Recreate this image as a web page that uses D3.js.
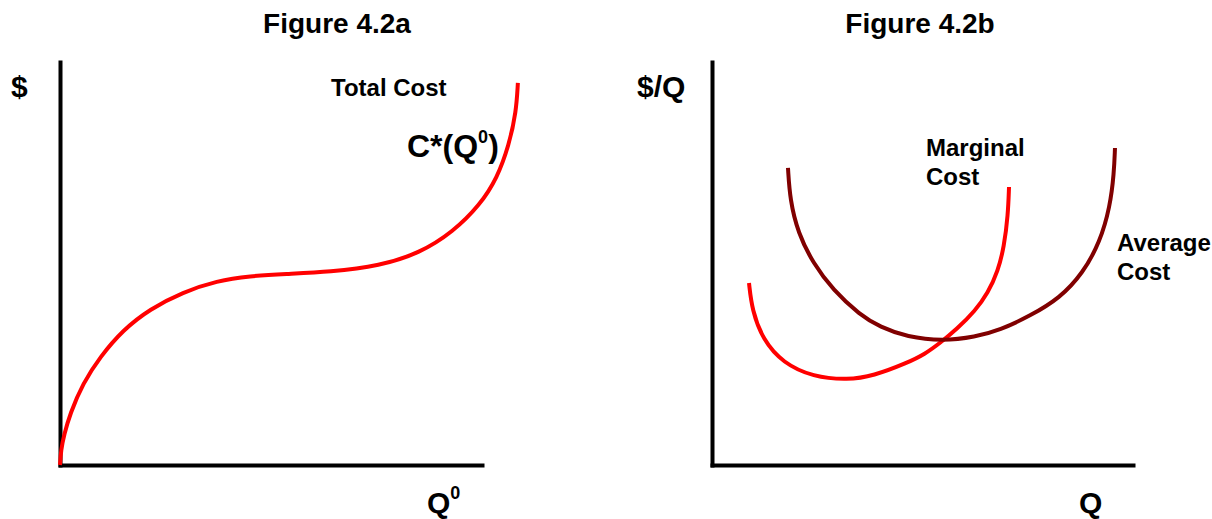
<!DOCTYPE html>
<html>
<head>
<meta charset="utf-8">
<script src="https://cdn.jsdelivr.net/npm/d3@7"></script>
<style>
  body { margin: 0; background: #fff; }
  text { font-family: "Liberation Sans", Arial, sans-serif; font-weight: bold; fill: #000; }
</style>
</head>
<body>
<script>
// curve points, in 0-100 units of each panel
var totalCost = [[0,0],[0.24,3.7],[0.95,7.4],[2.37,12.7],[5.45,20.3],[9.48,26.8],[14.9,33.5],
                 [21.3,38.7],[29.1,42.9],[37.2,45.7],[45,46.9],[53.3,47.4],[64,47.9],[75.8,49.4],
                 [85.3,52.6],[93.1,57.8],[99.5,64.5],[103.6,71.2],[106.4,79.4],[108.1,87.6],[108.5,94.8]];
var marginalCost = [[8.79,45.16],[9.5,38.46],[12.11,31.02],[16.86,25.31],[23.99,21.84],[32.3,21.09],
                    [38.24,22.08],[46.32,25.31],[50.59,27.54],[54.16,30.27],[58.19,33.75],[62.47,38.21],
                    [65.56,42.68],[67.93,48.14],[69.36,54.09],[70.31,62.03],[70.55,68.98]];
var averageCost = [[18.05,73.7],[18.53,65.76],[20.43,57.57],[23.99,50.12],[28.74,43.42],[35.15,37.22],
                   [39.9,34.24],[46.32,31.76],[54.87,30.77],[62.47,31.76],[68.41,33.5],[75.53,36.97],
                   [82.66,41.44],[88.12,47.64],[92.16,55.33],[94.54,64.02],[95.49,72.46],[95.72,78.66]];

var W = 1212, H = 519;
var svg = d3.select("body").append("svg").attr("width", W).attr("height", H);

var yScale = d3.scaleLinear().domain([0, 100]).range([465, 62]);
var xLeft = d3.scaleLinear().domain([0, 100]).range([60, 482]);
var xRight = d3.scaleLinear().domain([0, 100]).range([712, 1133]);

function drawAxes(x) {
  svg.append("g").attr("transform", "translate(0,465)")
    .call(d3.axisBottom(x).tickValues([]).tickSizeOuter(0));
  svg.append("g").attr("transform", "translate(" + x(0) + ",0)")
    .call(d3.axisLeft(yScale).tickValues([]).tickSizeOuter(0));
  svg.selectAll(".domain").attr("stroke", "#000").attr("stroke-width", 4)
    .attr("stroke-linecap", "square");
}
drawAxes(xLeft);
drawAxes(xRight);

function drawCurve(data, x, color) {
  var line = d3.line()
    .x(function(d) { return x(d[0]); })
    .y(function(d) { return yScale(d[1]); })
    .curve(d3.curveBasis);
  svg.append("path").datum(data).attr("d", line)
    .attr("fill", "none").attr("stroke", color).attr("stroke-width", 4);
}
drawCurve(totalCost, xLeft, "#ff0000");
drawCurve(marginalCost, xRight, "#ff0000");
drawCurve(averageCost, xRight, "#800000");

// titles and labels
svg.append("text").attr("x", 337).attr("y", 33).attr("text-anchor", "middle")
  .attr("font-size", 28).text("Figure 4.2a");
svg.append("text").attr("x", 920).attr("y", 33).attr("text-anchor", "middle")
  .attr("font-size", 28).text("Figure 4.2b");

svg.append("text").attr("x", 11).attr("y", 97).attr("font-size", 30).text("$");
svg.append("text").attr("x", 637).attr("y", 97).attr("font-size", 30).text("$/Q");

svg.append("text").attr("x", 331).attr("y", 96).attr("font-size", 24).text("Total Cost");

var c = svg.append("text").attr("x", 407).attr("y", 157).attr("font-size", 32);
c.append("tspan").text("C*(Q");
c.append("tspan").attr("font-size", 18).attr("dy", -14).text("0");
c.append("tspan").attr("dy", 14).text(")");

var q0 = svg.append("text").attr("x", 427).attr("y", 513).attr("font-size", 30);
q0.append("tspan").text("Q");
q0.append("tspan").attr("font-size", 18).attr("dy", -14).text("0");

svg.append("text").attr("x", 1079).attr("y", 513).attr("font-size", 30).text("Q");

svg.append("text").attr("x", 926).attr("y", 156).attr("font-size", 24).text("Marginal");
svg.append("text").attr("x", 926).attr("y", 185).attr("font-size", 24).text("Cost");
svg.append("text").attr("x", 1117).attr("y", 251).attr("font-size", 24).text("Average");
svg.append("text").attr("x", 1117).attr("y", 280).attr("font-size", 24).text("Cost");
</script>
</body>
</html>
